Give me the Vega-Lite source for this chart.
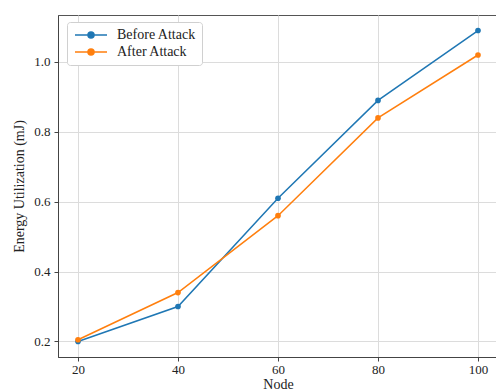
{
  "$schema": "https://vega.github.io/schema/vega-lite/v6.json",
  "width": 440,
  "height": 342,
  "autosize": "none",
  "padding": {"left": 58, "top": 15, "right": 0, "bottom": 33},
  "background": "white",
  "config": {
    "font": "Liberation Serif",
    "view": {"stroke": "#555", "strokeWidth": 1}
  },
  "data": {
    "values": [
      {"node": 20, "energy": 0.2, "series": "Before Attack"},
      {"node": 40, "energy": 0.3, "series": "Before Attack"},
      {"node": 60, "energy": 0.61, "series": "Before Attack"},
      {"node": 80, "energy": 0.89, "series": "Before Attack"},
      {"node": 100, "energy": 1.09, "series": "Before Attack"},
      {"node": 20, "energy": 0.205, "series": "After Attack"},
      {"node": 40, "energy": 0.34, "series": "After Attack"},
      {"node": 60, "energy": 0.56, "series": "After Attack"},
      {"node": 80, "energy": 0.84, "series": "After Attack"},
      {"node": 100, "energy": 1.02, "series": "After Attack"}
    ]
  },
  "mark": {"type": "line", "strokeWidth": 1.5, "point": {"size": 32, "filled": true}},
  "encoding": {
    "x": {
      "field": "node", "type": "quantitative",
      "scale": {"domain": [16, 104], "nice": false, "zero": false},
      "axis": {
        "values": [20, 40, 60, 80, 100], "title": "Node",
        "grid": true, "gridColor": "#dcdcdc", "gridWidth": 1,
        "domainColor": "#444", "tickColor": "#444", "tickSize": 4,
        "labelFont": "Liberation Serif", "labelFontSize": 13, "labelColor": "#222", "labelPadding": 2,
        "titleFont": "Liberation Serif", "titleFontSize": 14, "titleFontWeight": "normal", "titleColor": "#222", "titlePadding": 1
      }
    },
    "y": {
      "field": "energy", "type": "quantitative",
      "scale": {"domain": [0.1555, 1.1345], "nice": false, "zero": false},
      "axis": {
        "values": [0.2, 0.4, 0.6, 0.8, 1.0], "format": ".1f", "title": "Energy Utilization (mJ)",
        "grid": true, "gridColor": "#dcdcdc", "gridWidth": 1,
        "domainColor": "#444", "tickColor": "#444", "tickSize": 4,
        "labelFont": "Liberation Serif", "labelFontSize": 13, "labelColor": "#222", "labelPadding": 4,
        "titleFont": "Liberation Serif", "titleFontSize": 14, "titleFontWeight": "normal", "titleColor": "#222", "titlePadding": 7
      }
    },
    "color": {
      "field": "series", "type": "nominal",
      "scale": {"domain": ["Before Attack", "After Attack"], "range": ["#1f77b4", "#ff7f0e"]},
      "legend": {
        "title": null, "orient": "none", "legendX": 9, "legendY": 7,
        "fillColor": "white", "strokeColor": "#d0d0d0", "cornerRadius": 3, "padding": 6,
        "labelFont": "Liberation Serif", "labelFontSize": 14, "labelColor": "#222",
        "symbolType": "M-3.2,0L3.2,0M-0.6,0A0.6,0.6,0,1,1,0.6,0A0.6,0.6,0,1,1,-0.6,0Z",
        "symbolSize": 100, "symbolStrokeWidth": 1.5, "symbolOffset": 11,
        "rowPadding": 3, "labelOffset": 19,
        "encode": {"symbols": {"update": {"fill": {"scale": "color", "field": "value"}}}}
      }
    }
  }
}
